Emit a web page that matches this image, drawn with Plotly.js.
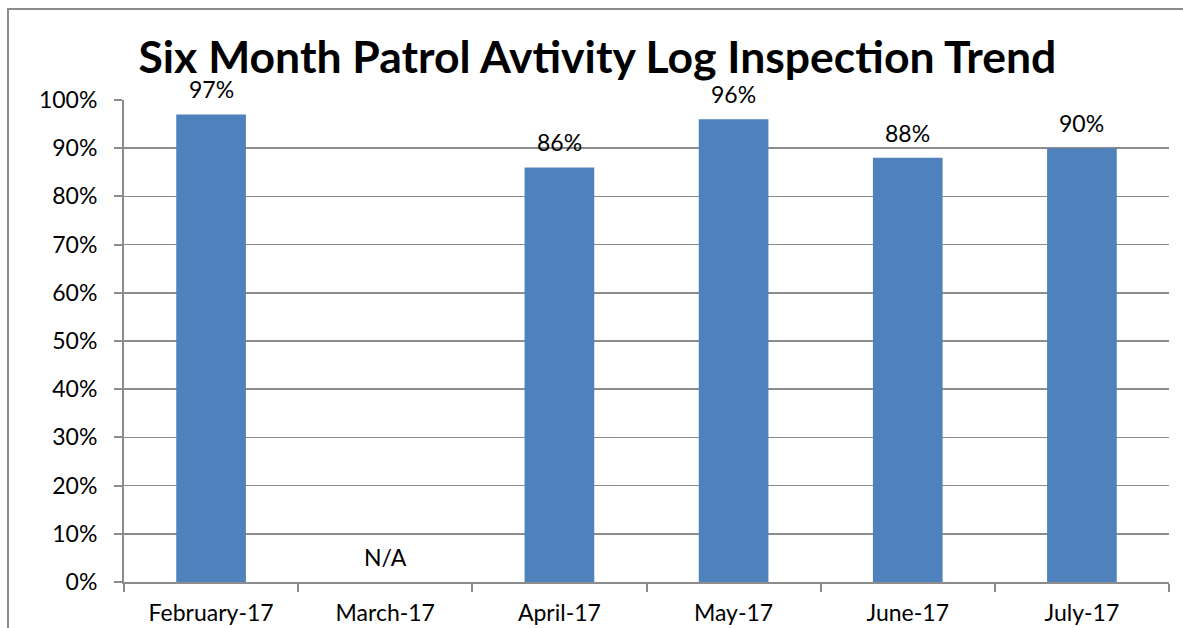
<!DOCTYPE html>
<html>
<head>
<meta charset="utf-8">
<script src="https://cdn.plot.ly/plotly-3.0.1.min.js"></script>
<style>
html,body{margin:0;padding:0;background:#fff;overflow:hidden;}
#wrap{position:relative;width:1183px;height:628px;}
#chart{position:absolute;left:0;top:0;width:1183px;height:628px;}
#frame{position:absolute;left:7px;top:8px;width:1300px;height:800px;border-left:2px solid #8c8c8c;border-top:2px solid #8c8c8c;pointer-events:none;}
</style>
</head>
<body>
<div id="wrap"><div id="chart"></div><div id="frame"></div></div>
<script>
const categories = ['February-17', 'March-17', 'April-17', 'May-17', 'June-17', 'July-17'];
const values = [0.97, null, 0.86, 0.96, 0.88, 0.90];
const labels = ['97%', 'N/A', '86%', '96%', '88%', '90%'];
const titleText = 'Six Month Patrol Avtivity Log Inspection Trend';

const FONT = 'Lato, "Open Sans", sans-serif';
const GRID = '#8c8c8c';

const trace = {
  type: 'bar',
  x: categories,
  y: values,
  marker: {color: '#4F81BD'},
  hoverinfo: 'skip'
};

const annotations = categories.map((c, i) => ({
  x: c,
  y: values[i] === null ? 0 : values[i],
  xref: 'x', yref: 'y',
  text: labels[i],
  showarrow: false,
  yanchor: 'bottom',
  yshift: 9,
  font: {family: FONT, size: 23, color: '#000'}
}));

const layout = {
  width: 1183, height: 628,
  margin: {l: 124, r: 14, t: 100, b: 46},
  paper_bgcolor: 'rgba(0,0,0,0)',
  plot_bgcolor: '#fff',
  showlegend: false,
  bargap: 0.6,
  title: {
    text: '<b>' + titleText + '</b>',
    font: {family: FONT, size: 44.5, color: '#000'},
    x: 0.505, xanchor: 'center',
    y: 0.908, yanchor: 'middle'
  },
  xaxis: {
    type: 'category',
    showline: true, linecolor: GRID, linewidth: 2,
    ticks: 'outside', tickson: 'boundaries', ticklen: 8, tickcolor: GRID, tickwidth: 2,
    showgrid: false,
    ticklabelstandoff: 9,
    tickfont: {family: FONT, size: 23, color: '#000'}
  },
  yaxis: {
    range: [0, 1],
    dtick: 0.1,
    tickformat: '.0%',
    showline: true, linecolor: GRID, linewidth: 2,
    ticks: 'outside', ticklen: 8, tickcolor: GRID, tickwidth: 2,
    showgrid: true, gridcolor: GRID, gridwidth: 1.5,
    zeroline: false,
    ticklabelstandoff: 12,
    tickfont: {family: FONT, size: 23, color: '#000'}
  },
  annotations: annotations
};

Plotly.newPlot('chart', [trace], layout, {displayModeBar: false, staticPlot: true});
</script>
</body>
</html>
